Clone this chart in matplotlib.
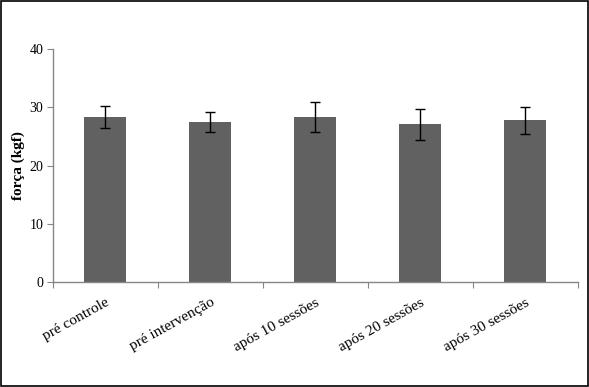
import matplotlib
matplotlib.use("Agg")
import matplotlib.pyplot as plt
from matplotlib.patches import Rectangle

categorias = ["pré controle", "pré intervenção", "após 10 sessões",
              "após 20 sessões", "após 30 sessões"]
forca = [28.3, 27.5, 28.3, 27.1, 27.8]
erro = [1.9, 1.7, 2.6, 2.65, 2.35]

plt.rcParams["font.family"] = ["Liberation Serif", "DejaVu Serif"]
GRAY_AX = "#868686"

fig = plt.figure(figsize=(5.89, 3.87), dpi=100, facecolor="white")
ax = fig.add_axes([0.09, 0.271, 0.891, 0.602])

x = list(range(len(categorias)))
ax.bar(x, forca, width=0.4, color="#616161", zorder=2)
ax.errorbar(x, forca, yerr=erro, fmt="none", ecolor="black", elinewidth=1.0,
            capsize=3.5, capthick=1.0, zorder=3)

ax.set_xlim(-0.5, len(categorias) - 0.5)
ax.set_ylim(0, 40)
ax.set_yticks([0, 10, 20, 30, 40])
ax.tick_params(axis="y", direction="out", length=4, color=GRAY_AX, labelsize=10, pad=3)
ax.set_xticks([i - 0.5 for i in range(len(categorias) + 1)])
ax.set_xticklabels([])
ax.tick_params(axis="x", direction="out", length=4, color=GRAY_AX)
# rótulos rotacionados, ancorados no centro da barra
ax.set_xticks(x, minor=True)
ax.set_xticklabels(categorias, minor=True, rotation=29, ha="right",
                   rotation_mode="anchor", fontsize=11)
ax.tick_params(axis="x", which="minor", length=0, pad=10)

for s in ["top", "right"]:
    ax.spines[s].set_visible(False)
for s in ["left", "bottom"]:
    ax.spines[s].set_color(GRAY_AX)
    ax.spines[s].set_linewidth(1.0)

ax.set_ylabel("força (kgf)", fontsize=11, fontweight="bold", labelpad=3)

fig.patches.append(Rectangle((0.002, 0.003), 0.996, 0.994, transform=fig.transFigure,
                             fill=False, edgecolor="black", lw=1.2))

fig.savefig("out.png", dpi=100)
